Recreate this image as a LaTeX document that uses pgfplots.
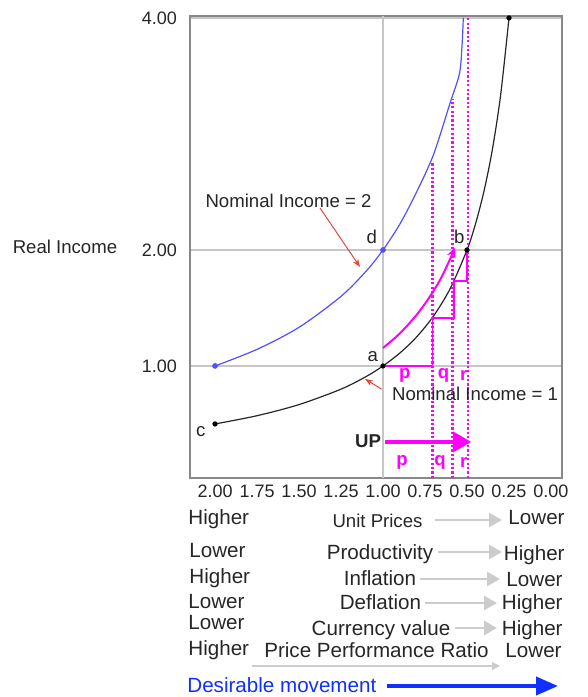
\documentclass[border=0pt]{standalone}
\usepackage{pgfplots}
\pgfplotsset{compat=1.18}
\usepackage{fontspec}
\setmainfont{Liberation Sans}
\usetikzlibrary{arrows.meta}
\definecolor{txt}{HTML}{262626}
\definecolor{nomblue}{HTML}{5050FF}
\definecolor{mag}{HTML}{FF00FF}
\definecolor{arrgray}{HTML}{CCCCCC}
\definecolor{redline}{HTML}{E8453C}
\definecolor{framegray}{HTML}{888888}
\definecolor{desblue}{HTML}{1030FF}

\begin{document}
\begin{tikzpicture}[font=\fontsize{9.3}{11}\selectfont, text=txt]
\begin{axis}[
  at={(0,0)}, anchor=south west,
  scale only axis, width=186pt, height=231pt,
  x dir=reverse,
  xmin=-0.0655, xmax=2.149, ymin=0.034, ymax=4.017,
  xtick={0,0.25,0.5,0.75,1,1.25,1.5,1.75,2},
  ytick={1,2,4},
  ymajorgrids=true,
  extra x ticks={1}, extra x tick labels={},
  extra x tick style={grid=major},
  grid style={gray!45, line width=0.6pt},
  major tick length=0pt,
  axis line style={framegray, line width=0.9pt},
  tick label style={font=\fontsize{9}{11}\selectfont, text=txt},
  yticklabel style={xshift=-3pt},
  /pgf/number format/.cd, fixed, fixed zerofill, precision=2, assume math mode=true,
  /pgfplots/.cd,
  clip=false,
]
% Nominal Income = 1
\addplot[black!85, line width=0.6pt, smooth] coordinates {
  (2,0.5) (1.75,0.571) (1.5,0.667) (1.25,0.8) (1.1,0.909) (1,1)
  (0.9,1.111) (0.8,1.25) (0.7,1.429) (0.6,1.667) (0.5,2)
  (0.45,2.222) (0.4,2.5) (0.35,2.857) (0.3,3.333) (0.25,4)};
\addplot[only marks, mark=*, mark size=1.1pt, black] coordinates {
  (2,0.5) (1,1) (0.5,2) (0.25,4)};
% Nominal Income = 2
\addplot[nomblue, line width=0.6pt, smooth] coordinates {
  (2,1) (1.75,1.143) (1.5,1.333) (1.25,1.6) (1.1,1.818) (1,2)
  (0.9,2.222) (0.8,2.5) (0.7,2.82) (0.6,3.27) (0.545,3.52) (0.53,3.75) (0.522,4)};
\addplot[only marks, mark=*, mark size=1.2pt, nomblue] coordinates {
  (2,1) (1,2)};
% staircase
\addplot[mag, line width=0.6pt] coordinates {
  (1,1) (0.707,1) (0.707,1.414) (0.577,1.414) (0.577,1.732) (0.5,1.732) (0.5,2)};
% dotted verticals
\addplot[mag, line width=1.3pt, dash pattern=on 1.1pt off 1.1pt] coordinates {(0.707,0.034) (0.707,2.76)};
\addplot[mag, line width=1.3pt, dash pattern=on 1.1pt off 1.1pt] coordinates {(0.585,0.034) (0.585,3.3)};
\addplot[mag, line width=1.3pt, dash pattern=on 1.1pt off 1.1pt] coordinates {(0.495,0.034) (0.495,4)};
% curved magenta arrow
\addplot[mag, line width=1pt, smooth, -{Stealth[length=5pt,width=4.5pt]}] coordinates {
  (1,1.155) (0.9,1.28) (0.8,1.44) (0.72,1.6) (0.65,1.77) (0.57,2.02)};
% UP arrow
\addplot[mag, line width=1.6pt, -{Triangle[length=9pt,width=10pt]}] coordinates {(0.99,0.345) (0.475,0.345)};
% red pointers
\addplot[redline, line width=0.5pt, -{Stealth[length=4pt,width=3pt]}] coordinates {(1.375,2.362) (1.137,1.853)};
\addplot[redline, line width=0.5pt, -{Stealth[length=4pt,width=3pt]}] coordinates {(1.008,0.799) (1.107,0.888)};

\node at (axis cs:1.5625,2.422) {Nominal Income = 2};
\node at (axis cs:0.452,0.756) {Nominal Income = 1};
\node at (axis cs:1.067,2.11) {d};
\node at (axis cs:0.546,2.11) {b};
\node at (axis cs:1.061,1.08) {a};
\node at (axis cs:2.085,0.434) {c};
\node[font=\fontsize{9.3}{11}\selectfont\bfseries] at (axis cs:1.089,0.353) {UP};
\begin{scope}[font=\fontsize{9.3}{11}\selectfont\bfseries, text=mag]
\node at (axis cs:0.87,0.92) {p};
\node at (axis cs:0.64,0.92) {q};
\node at (axis cs:0.52,0.92) {r};
\node at (axis cs:0.887,0.17) {p};
\node at (axis cs:0.66,0.17) {q};
\node at (axis cs:0.52,0.17) {r};
\end{scope}
\end{axis}

% pixel-based layer for labels outside the plot
\begin{scope}[x=0.5pt, y=-0.5pt, shift={(-95pt,239pt)}]
\node[anchor=base] at (65,254) {Real Income};
\begin{scope}[font=\fontsize{10.3}{12}\selectfont, every node/.style={inner sep=0pt}]
% left column
\node[anchor=base west] at (188,524) {Higher};
\node[anchor=base west] at (189,557) {Lower};
\node[anchor=base west] at (189,583) {Higher};
\node[anchor=base west] at (188,608) {Lower};
\node[anchor=base west] at (188,629) {Lower};
\node[anchor=base west] at (188,655) {Higher};
% right column
\node[anchor=base east] at (565,524) {Lower};
\node[anchor=base east] at (565,560) {Higher};
\node[anchor=base east] at (563,586) {Lower};
\node[anchor=base east] at (563,609) {Higher};
\node[anchor=base east] at (563,635) {Higher};
\node[anchor=base east] at (562,657) {Lower};
% middle
\node[anchor=base, font=\fontsize{9.3}{11}\selectfont] at (377.5,527) {Unit Prices};
\node[anchor=base] at (380,559) {Productivity};
\node[anchor=base] at (380,585) {Inflation};
\node[anchor=base] at (380.5,609) {Deflation};
\node[anchor=base] at (381,635) {Currency value};
\node[anchor=base] at (376.5,657) {Price Performance Ratio};
% desirable movement
\node[anchor=base west, text=desblue] at (187,692) {Desirable movement};
\end{scope}
% gray arrows
\begin{scope}[arrgray, line width=1.3pt, -{Triangle[length=6.5pt,width=7pt]}]
\draw (435,520) -- (502,520);
\draw (438,552) -- (502,552);
\draw (420,579) -- (500,579);
\draw (425,603) -- (497,603);
\draw (455,628) -- (497,628);
\end{scope}
\draw[arrgray, line width=0.6pt, -{Triangle[length=4pt,width=4pt]}] (252,666) -- (500,666);
\draw[desblue, line width=2pt, -{Triangle[length=11pt,width=9pt]}] (387,686) -- (558,686);
\pgfresetboundingbox
\path[use as bounding box] (0,0) rectangle (588,697);
\end{scope}
\end{tikzpicture}
\end{document}
